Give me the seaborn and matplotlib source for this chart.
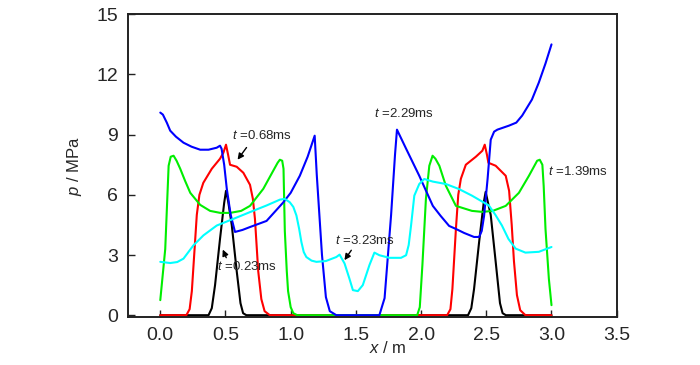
import seaborn as sns
import matplotlib.pyplot as plt
import pandas as pd

# pressure profiles p(x) at five instants
x_023 = [0, 0.37, 0.395, 0.42, 0.458, 0.49, 0.504, 0.52, 0.548, 0.586, 0.615, 0.635, 0.66,
         2.36, 2.385, 2.406, 2.445, 2.48, 2.495, 2.51, 2.534, 2.572, 2.605, 2.625, 2.65, 3.0]
p_023 = [0, 0, 0.35, 1.5, 3.8, 5.6, 6.2, 5.7, 4.5, 2.2, 0.6, 0.1, 0,
         0, 0.35, 1.3, 3.65, 5.6, 6.15, 5.7, 5.0, 2.66, 0.6, 0.1, 0, 0]

x_068 = [0, 0.2, 0.225, 0.242, 0.26, 0.28, 0.3, 0.33, 0.395, 0.458, 0.484, 0.504, 0.52, 0.535,
         0.586, 0.637, 0.688, 0.71, 0.726, 0.751, 0.775, 0.8, 0.84,
         2.2, 2.225, 2.24, 2.267, 2.285, 2.305, 2.343, 2.42, 2.47, 2.488, 2.505, 2.516,
         2.572, 2.649, 2.675, 2.695, 2.712, 2.735, 2.76, 2.8, 3.0]
p_068 = [0, 0, 0.3, 1.2, 3.0, 5.0, 6.0, 6.6, 7.3, 7.8, 8.1, 8.5, 8.0, 7.5,
         7.4, 7.1, 6.5, 5.8, 4.8, 2.2, 0.8, 0.2, 0,
         0, 0.3, 1.3, 4.3, 6.0, 6.8, 7.5, 7.9, 8.2, 8.5, 8.0, 7.6,
         7.45, 6.95, 6.2, 4.5, 2.7, 1.0, 0.25, 0, 0]

x_139 = [0, 0.038, 0.064, 0.08, 0.102, 0.125, 0.153, 0.19, 0.23, 0.306, 0.382, 0.46, 0.535,
         0.62, 0.688, 0.79, 0.866, 0.9, 0.917, 0.935, 0.945, 0.955, 0.97, 0.98, 1.0, 1.02, 1.05,
         1.97, 1.99, 2.01, 2.037, 2.063, 2.088, 2.11, 2.14, 2.19, 2.267, 2.39, 2.47, 2.55,
         2.649, 2.75, 2.827, 2.89, 2.91, 2.93, 2.94, 2.954, 2.98, 3.0]
p_139 = [0.75, 3.3, 7.45, 7.9, 7.95, 7.7, 7.3, 6.7, 6.1, 5.5, 5.2, 5.1, 5.1,
         5.2, 5.45, 6.3, 7.2, 7.6, 7.75, 7.7, 7.3, 4.2, 2.2, 1.2, 0.4, 0.1, 0,
         0, 0.4, 2.5, 5.8, 7.45, 7.95, 7.8, 7.45, 6.45, 5.45, 5.2, 5.15, 5.2,
         5.45, 6.1, 6.95, 7.7, 7.75, 7.5, 6.45, 4.3, 1.8, 0.5]

x_229 = [0, 0.02, 0.05, 0.076, 0.12, 0.178, 0.24, 0.306, 0.37, 0.433, 0.458, 0.47, 0.49,
         0.51, 0.54, 0.573, 0.63, 0.69, 0.815, 0.94, 1.0, 1.07, 1.13, 1.184, 1.2, 1.22,
         1.24, 1.27, 1.3, 1.35,
         1.68, 1.72, 1.77, 1.80, 1.815, 1.885, 1.986, 2.09, 2.15, 2.215, 2.267, 2.33, 2.406,
         2.445, 2.465, 2.483, 2.51, 2.534, 2.56, 2.585, 2.674, 2.73, 2.775, 2.85, 2.903,
         2.954, 3.0]
p_229 = [10.1, 10.0, 9.6, 9.2, 8.9, 8.6, 8.4, 8.25, 8.25, 8.35, 8.45, 8.3, 7.5,
         6.3, 5.0, 4.15, 4.25, 4.4, 4.7, 5.6, 6.1, 6.95, 7.9, 8.95, 7.0, 5.0,
         3.0, 0.9, 0.2, 0,
         0, 0.85, 5.0, 8.0, 9.25, 8.3, 6.95, 5.45, 4.95, 4.45, 4.3, 4.1, 3.9,
         3.9, 4.2, 4.95, 6.8, 8.75, 9.15, 9.25, 9.45, 9.6, 9.95, 10.75, 11.6,
         12.55, 13.5]

x_323 = [0, 0.076, 0.13, 0.178, 0.254, 0.331, 0.433, 0.56, 0.688, 0.815, 0.917, 0.955, 0.993,
         1.02, 1.044, 1.065, 1.082, 1.1, 1.12, 1.16, 1.197, 1.27, 1.35, 1.375, 1.413, 1.45,
         1.477, 1.515, 1.553, 1.604, 1.642, 1.68, 1.757, 1.846, 1.885, 1.905, 1.923, 1.948,
         1.986, 2.024, 2.09, 2.19, 2.29, 2.39, 2.52, 2.57, 2.62, 2.67, 2.725, 2.8, 2.903, 3.0]
p_323 = [2.66, 2.6, 2.65, 2.82, 3.48, 3.98, 4.47, 4.8, 5.14, 5.47, 5.76, 5.8, 5.63,
         5.4, 4.97, 4.3, 3.65, 3.15, 2.9, 2.72, 2.66, 2.7, 2.9, 3.02, 2.58, 1.83,
         1.25, 1.2, 1.5, 2.5, 3.12, 2.99, 2.86, 2.86, 2.99, 3.5, 4.47, 5.96,
         6.54, 6.79, 6.66, 6.54, 6.29, 5.96, 5.47, 5.0, 4.47, 3.8, 3.32, 3.12, 3.16, 3.4]

times = ["0.23", "0.68", "1.39", "2.29", "3.23"]
palette = ["#000000", "#FF0000", "#00EE00", "#0000FF", "#00FFFF"]

frames = []
for t, xs, ps in zip(times, [x_023, x_068, x_139, x_229, x_323],
                     [p_023, p_068, p_139, p_229, p_323]):
    frames.append(pd.DataFrame({"x": xs, "p": ps, "t": t}))
df = pd.concat(frames, ignore_index=True)

sns.set_style("ticks")
plt.rcParams['font.family'] = ['Liberation Sans', 'DejaVu Sans']
plt.rcParams['mathtext.fontset'] = 'custom'
plt.rcParams['mathtext.it'] = 'Liberation Sans:italic'
plt.rcParams['mathtext.rm'] = 'Liberation Sans'

fig = plt.figure(figsize=(7, 3.65), dpi=100)
ax = fig.add_axes([0.1824, 0.1315, 0.6986, 0.8293])

sns.lineplot(data=df, x="x", y="p", hue="t", palette=palette, estimator=None,
             sort=False, linewidth=1.5, legend=False, ax=ax)

ax.set_xlim(-0.25, 3.5)
ax.set_ylim(-0.09, 15)
ax.set_xticks([0, 0.5, 1.0, 1.5, 2.0, 2.5, 3.0, 3.5])
ax.set_xticklabels(["0.0", "0.5", "1.0", "1.5", "2.0", "2.5", "3.0", "3.5"])
ax.set_yticks([0, 3, 6, 9, 12, 15])
ax.tick_params(direction="in", length=5, width=1, labelsize=14, pad=7, color="#222222")
for s in ax.spines.values():
    s.set_linewidth(1.4)
    s.set_color("#222222")

ax.set_xlabel(r"$\it{x}$ / m", fontsize=12)
ax.set_ylabel(r"$\it{p}$ / MPa", fontsize=12)
ax.xaxis.set_label_coords(0.532, -0.075)
ax.yaxis.set_label_coords(-0.09, 0.5)

fs = 9.5
ax.text(0.55, 8.95, r"$\it{t}$ =0.68ms", fontsize=fs, va="center")
ax.annotate("", xy=(0.58, 7.64), xytext=(0.674, 8.47),
            arrowprops=dict(arrowstyle="-|>", color="black", lw=1, mutation_scale=9))
ax.text(0.433, 2.45, r"$\it{t}$ =0.23ms", fontsize=fs, va="center")
ax.annotate("", xy=(0.471, 3.4), xytext=(0.514, 2.74),
            arrowprops=dict(arrowstyle="-|>", color="black", lw=1, mutation_scale=9))
ax.text(1.337, 3.73, r"$\it{t}$ =3.23ms", fontsize=fs, va="center")
ax.annotate("", xy=(1.40, 2.63), xytext=(1.477, 3.35),
            arrowprops=dict(arrowstyle="-|>", color="black", lw=1, mutation_scale=9))
ax.text(1.642, 10.06, r"$\it{t}$ =2.29ms", fontsize=fs, va="center")
ax.text(2.974, 7.17, r"$\it{t}$ =1.39ms", fontsize=fs, va="center")

fig.savefig("out.png", dpi=100)
